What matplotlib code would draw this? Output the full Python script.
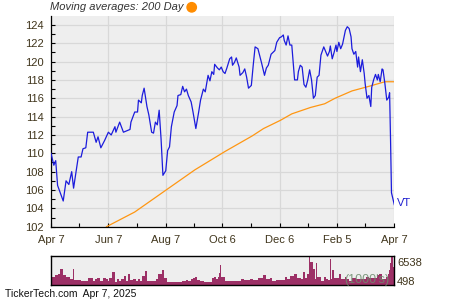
import numpy as np
import pandas as pd
import matplotlib
matplotlib.use("Agg")
import matplotlib.pyplot as plt
import matplotlib.dates as mdates
from matplotlib.patches import Ellipse

plt.rcParams['font.family'] = ['Liberation Sans', 'DejaVu Sans']

# ---------------- data ----------------
start_date = "2024-04-07"
price_days = [0, 3, 5, 7, 13, 16, 19, 22, 24, 29, 32, 34, 37, 39, 45, 48, 50, 53, 57, 61,
              64, 68, 69, 73, 77, 84, 85, 89, 92, 93, 96, 97, 99, 102, 104, 107, 109, 111, 113, 115,
              117, 119, 122, 124, 126, 128, 131, 134, 135, 138, 140, 142, 144, 146, 149, 151, 154, 157, 159, 162,
              164, 167, 169, 171, 173, 174, 177, 179, 181, 183, 185, 187, 190, 192, 193, 195, 197, 200, 201, 204,
              206, 208, 210, 213, 215, 217, 220, 223, 224, 227, 229, 231, 234, 237, 238, 240, 243, 245, 247, 248,
              250, 252, 254, 256, 259, 262, 263, 265, 267, 269, 271, 273, 275, 277, 279, 281, 283, 285, 287, 288,
              290, 292, 294, 296, 297, 299, 301, 303, 304, 306, 308, 310, 311, 313, 315, 317, 319, 320, 322, 324,
              326, 327, 329, 331, 333, 334, 336, 338, 339, 340, 341, 343, 345, 347, 348, 350, 352, 353, 355, 357,
              359, 360, 361, 362, 365]
price_close = [110.0, 108.7, 109.2, 106.5, 104.8, 107.0, 106.6, 108.0, 106.2, 109.6, 109.6, 110.5, 110.6, 112.3, 112.3, 111.2, 111.8, 110.6, 111.4, 112.3,
               112.0, 112.9, 112.3, 113.4, 112.3, 112.6, 113.4, 114.5, 114.5, 115.8, 115.5, 116.3, 117.1, 115.1, 114.2, 112.3, 112.2, 113.4, 113.1, 114.7,
               111.6, 107.6, 108.1, 110.3, 110.7, 112.9, 114.5, 115.2, 116.3, 116.4, 117.3, 116.7, 117.0, 116.3, 115.6, 114.5, 112.7, 114.5, 115.8, 117.0,
               116.7, 118.5, 117.9, 118.9, 118.6, 119.7, 119.3, 119.1, 119.4, 118.9, 118.7, 119.3, 120.3, 120.5, 119.6, 119.9, 120.4, 119.4, 118.5, 118.8,
               119.2, 118.3, 117.1, 117.4, 119.6, 121.6, 121.4, 120.2, 119.8, 118.5, 119.3, 119.6, 120.8, 121.1, 121.2, 122.1, 122.6, 122.7, 122.9, 122.3,
               121.8, 122.8, 121.8, 121.8, 118.0, 118.0, 118.9, 119.6, 119.4, 117.5, 117.2, 118.0, 119.1, 118.0, 116.0, 116.3, 118.3, 118.5, 120.7, 121.0,
               121.6, 121.1, 120.6, 121.1, 121.7, 120.3, 121.0, 121.8, 121.1, 122.1, 121.4, 121.9, 122.4, 123.4, 123.8, 123.6, 122.7, 121.4, 120.8, 121.1,
               119.4, 120.5, 118.9, 120.2, 118.7, 117.6, 116.0, 116.3, 115.7, 115.1, 117.2, 118.0, 118.6, 118.0, 118.6, 117.8, 119.2, 119.1, 117.6, 115.8,
               116.1, 116.6, 111.5, 105.7, 104.4]

ma_days = [59, 89, 121, 153, 185, 214, 226, 244, 256, 276, 291, 302, 320, 338, 355, 365]
ma_values = [102.0, 103.6, 105.9, 108.2, 110.2, 111.9, 112.7, 113.6, 114.3, 115.0, 115.4, 116.0, 116.8, 117.3, 117.8, 117.8]

vol_days = [0, 4, 7, 10, 13, 16, 20, 23, 25, 29, 32, 36, 39, 42, 45, 47, 49, 52, 55, 59,
            61, 62, 65, 68, 70, 73, 75, 78, 80, 82, 84, 87, 91, 93, 95, 97, 100, 102, 107, 110,
            112, 114, 117, 118, 119, 121, 124, 128, 133, 137, 140, 144, 146, 149, 151, 153, 156, 159, 163, 169,
            172, 174, 176, 178, 179, 180, 181, 185, 190, 196, 200, 203, 206, 212, 215, 219, 221, 224, 226, 229,
            233, 236, 240, 243, 247, 249, 252, 255, 257, 259, 262, 265, 266, 269, 271, 273, 275, 276, 277, 279,
            281, 282, 284, 288, 291, 293, 295, 297, 298, 300, 302, 304, 307, 309, 313, 314, 318, 321, 325, 328,
            332, 336, 339, 343, 346, 348, 350, 353, 357, 359, 360, 361, 362, 365]
vol_thousands = [2132, 2488, 2701, 3909, 2488, 2132, 1777, 3909, 1635, 1564, 1422, 1422, 1990, 1990, 1422, 1777, 1990, 1422, 1990, 1777,
                 1422, 1990, 3198, 1209, 1777, 1422, 1777, 2275, 1422, 2701, 1564, 1777, 1422, 1777, 1422, 2275, 3411, 1280, 1280, 1280,
                 1777, 2701, 2843, 3696, 3696, 1990, 1066, 1066, 1066, 1066, 1422, 1564, 1280, 1777, 1990, 2132, 1635, 1280, 1066, 1066,
                 1990, 2132, 1777, 2132, 2985, 4619, 2132, 1422, 1422, 1422, 1422, 1777, 1564, 1777, 1564, 1564, 1990, 1990, 2488, 1777,
                 1990, 1422, 1564, 1564, 1564, 2132, 1777, 2275, 2275, 2701, 1990, 1990, 1777, 3198, 1990, 2843, 6396, 5330, 5330, 3909,
                 1777, 5117, 2132, 1422, 2132, 1777, 1564, 5828, 1777, 3696, 1990, 1990, 2701, 1777, 2132, 1777, 1422, 1990, 1777, 1777,
                 1777, 2132, 1990, 1990, 1990, 2488, 2843, 1777, 2132, 2843, 3554, 5117, 6538, 4264]
vol_max, vol_min = 6538, 498

tick_dates = ["2024-04-07", "2024-06-07", "2024-08-07", "2024-10-06", "2024-12-06", "2025-02-05", "2025-04-07"]
tick_labels = ["Apr 7", "Jun 7", "Aug 7", "Oct 6", "Dec 6", "Feb 5", "Apr 7"]
minor_dates = ["2024-05-07", "2024-07-07", "2024-09-06", "2024-11-06", "2025-01-05", "2025-03-07"]
y_ticks = list(range(102, 125, 2))
ticker = "VT"
title_text = "Moving averages: 200 Day"
footer_text = "TickerTech.com  Apr 7, 2025"

# ---------------- figure ----------------
base = pd.Timestamp(start_date)
to_dates = lambda d: [base + pd.Timedelta(days=int(x)) for x in d]
p_dates = to_dates(price_days)
m_dates = to_dates(ma_days)
v_dates = to_dates(vol_days)

W, H = 450, 300
fig = plt.figure(figsize=(4.5, 3), dpi=100)
fig.patch.set_facecolor('white')

ax = fig.add_axes([51 / W, 1 - 226.7 / H, (394.3 - 51) / W, (226.7 - 15.7) / H])
ax.set_facecolor('#eeeeee')
ax.plot(p_dates, price_close, color='#1c1cdc', lw=0.9, zorder=3)
ax.plot(m_dates, ma_values, color='#ff9612', lw=0.9, zorder=2)

ax.set_xlim(pd.Timestamp(tick_dates[0]), pd.Timestamp(tick_dates[-1]))
ax.set_ylim(102, 125)
ax.set_xticks([pd.Timestamp(d) for d in tick_dates])
ax.set_xticklabels(tick_labels)
ax.set_xticks([pd.Timestamp(d) for d in minor_dates], minor=True)
ax.set_yticks(y_ticks)
ax.set_yticks(range(103, 125, 2), minor=True)
ax.tick_params(axis='both', which='both', direction='in', length=3, width=0.8,
               colors='black', labelsize=8, labelcolor='#40351c')
ax.tick_params(axis='x', pad=6)
ax.tick_params(axis='y', pad=5)
ax.grid(True, which='major', color='#d8d8d8', lw=0.9)
ax.set_axisbelow(True)
for s in ['top', 'right']:
    ax.spines[s].set_visible(False)
for s in ['left', 'bottom']:
    ax.spines[s].set_color('black')
    ax.spines[s].set_linewidth(0.9)

ax.annotate(ticker, xy=(p_dates[-1], price_close[-1]), xytext=(2, 1.5),
            textcoords='offset points', color='#2020d0', fontsize=8, va='center', ha='left',
            annotation_clip=False)

fig.text(50 / W, 1 - 7.5 / H, title_text, style='italic', fontsize=8, color='#333333',
         va='center', ha='left')
fig.add_artist(Ellipse((191.7 / W, 1 - 7.3 / H), 9.4 / W, 9.4 / H, transform=fig.transFigure,
                       color='#ff8c00'))

# volume panel
vax = fig.add_axes([51 / W, 1 - 285 / H, (394.3 - 51) / W, 29 / H])
vax.set_facecolor('#eeeeee')
vnum = mdates.date2num(v_dates)
widths = np.diff(np.append(vnum, vnum[-1] + 1))
vals = np.array(vol_thousands)
vax.bar(vnum, vals - vol_min, bottom=vol_min, width=widths, align='edge', color='#9c3066', lw=0)
vax.set_xlim(mdates.date2num(pd.Timestamp(tick_dates[0])), mdates.date2num(pd.Timestamp(tick_dates[-1])) + 1)
vax.set_ylim(vol_min, vol_max)
vax.set_xticks([])
vax.set_yticks([])
for s in vax.spines.values():
    s.set_color('black')
    s.set_linewidth(1.0)
vax.text(0.985, 0.17, "(1000's)", transform=vax.transAxes, ha='right', va='center', fontsize=9,
         color='#6e8c6e', alpha=0.85)
fig.text(397 / W, 1 - 262.7 / H, str(vol_max), fontsize=8, color='#40351c', va='center', ha='left')
fig.text(397 / W, 1 - 281.7 / H, str(vol_min), fontsize=8, color='#40351c', va='center', ha='left')

fig.text(5 / W, 1 - 294 / H, footer_text, fontsize=7.5, color='#111111', va='center', ha='left')

fig.savefig('out.png', dpi=100)
